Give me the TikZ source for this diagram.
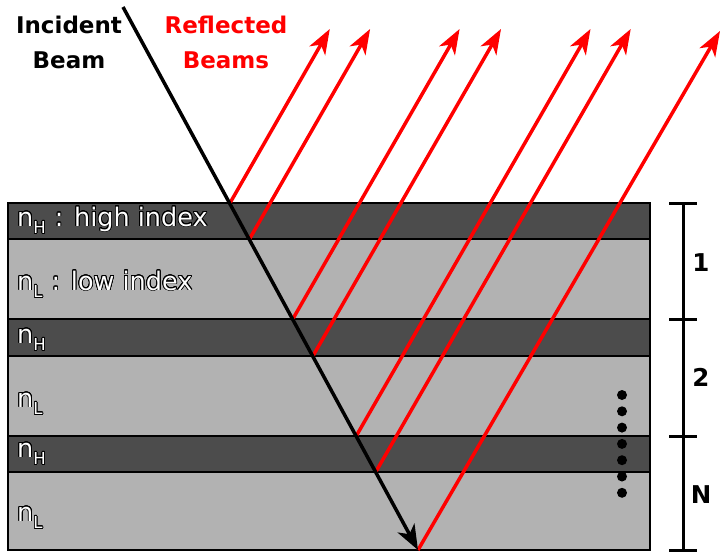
\documentclass[tikz,border=0pt]{standalone}
\usepackage{fontspec}
\setmainfont{DejaVu Sans}
\usepackage{contour}
\contourlength{0.8pt}
\contournumber{24}
\usetikzlibrary{arrows.meta}

\definecolor{hiLayer}{gray}{0.30}
\definecolor{loLayer}{gray}{0.70}

% outlined white text
\newcommand{\otext}[1]{\contour{black}{\color{white}#1}}
% layer label: n with a lowered subscript, then an optional description
\newcommand{\lbl}[2]{\otext{n}%
  \raisebox{-7.5pt}{\fontsize{16.5}{16.5}\selectfont\otext{#1}}%
  \hspace{9pt}\otext{#2}}

\begin{document}
\begin{tikzpicture}[x=1pt,y=-1pt,
  layerH/.style={fill=hiLayer,draw=black,line width=2.2pt},
  layerL/.style={fill=loLayer,draw=black,line width=2.2pt},
  incident/.style={line width=3.5pt,black,-{Stealth[length=25pt,width=19pt,inset=7pt]}},
  reflected/.style={line width=3.5pt,red,-{Stealth[length=25pt,width=18pt,inset=7pt]}},
  layertext/.style={anchor=base west,inner sep=0pt,font=\fontsize{25.5}{25.5}\selectfont},
  headtext/.style={align=center,inner sep=0pt,anchor=base,font=\fontsize{23}{35}\selectfont\bfseries},
  period/.style={anchor=center,inner sep=0pt,font=\fontsize{24.5}{25}\selectfont\bfseries},
  tick/.style={line width=3pt},
  dot/.style={circle,fill=black,inner sep=0pt,minimum size=10pt}]
\useasboundingbox (0,0) rectangle (720,552);

% layer stack
\fill[white] (0,0) rectangle (720,552);
\draw[layerH] (8,203) rectangle (650,239);
\draw[layerL] (8,239) rectangle (650,319);
\draw[layerH] (8,319) rectangle (650,356);
\draw[layerL] (8,356) rectangle (650,436);
\draw[layerH] (8,436) rectangle (650,472);
\draw[layerL] (8,472) rectangle (650,550);

% layer labels
\node[layertext] (t1) at (17,226) {\lbl{H}{: high index}};
\node[layertext] (t2) at (17,290) {\lbl{L}{: low index}};
\node[layertext] (t3) at (17,343) {\lbl{H}{}};
\node[layertext] (t4) at (17,407) {\lbl{L}{}};
\node[layertext] (t5) at (17,457) {\lbl{H}{}};
\node[layertext] (t6) at (17,521) {\lbl{L}{}};

% points where the incident beam meets each interface
\coordinate (src) at (123,7);
\coordinate (p0) at (230,203);
\coordinate (p1) at (249.5,239);
\coordinate (p2) at (292.8,319);
\coordinate (p3) at (312.9,356);
\coordinate (p4) at (356.2,436);
\coordinate (p5) at (375.7,472);
\coordinate (p6) at (418,550);

% reflected beam ends
\coordinate (r0) at (329.8,29);
\coordinate (r1) at (370.1,29);
\coordinate (r2) at (459.6,29);
\coordinate (r3) at (501.0,29);
\coordinate (r4) at (590.5,29);
\coordinate (r5) at (630.7,29);
\coordinate (r6) at (720,31);

\foreach \i in {0,...,6} \draw[reflected] (p\i) -- (r\i);
\draw[incident] (src) -- (p6);

% period brackets
\coordinate (b0) at (683,203);
\coordinate (b1) at (683,319);
\coordinate (b2) at (683,436);
\coordinate (b3) at (683,550);
\draw[tick] (b0) -- (b3);
\foreach \b in {b0,b1,b2,b3} \draw[tick] ([xshift=-14pt]\b) -- ([xshift=14pt]\b);
\node[period] (n1) at (701,262.5) {1};
\node[period] (n2) at (701,377.5) {2};
\node[period] (nN) at (701,494.5) {N};

% continuation dots
\foreach \k in {0,...,6} \node[dot] (d\k) at (622,395+16.3*\k) {};

% headings (anchor sits on the second line's baseline)
\node[headtext] (inc) at (69,68) {Incident\\Beam};
\node[headtext,red] (ref) at (226,68) {Reflected\\Beams};
\end{tikzpicture}
\end{document}
